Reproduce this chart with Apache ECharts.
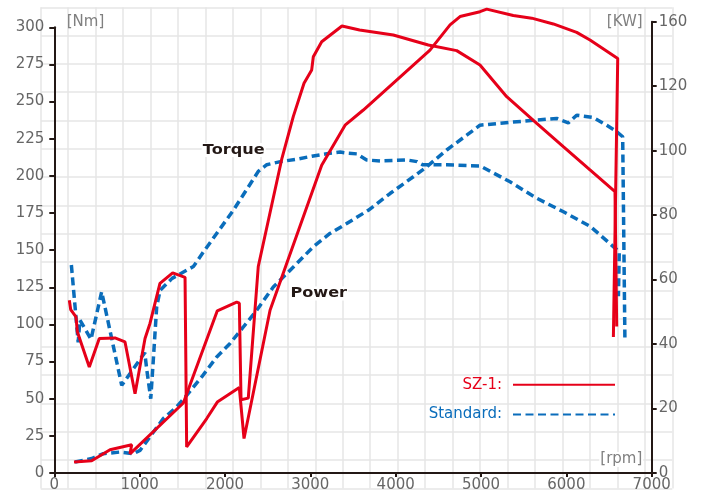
<!DOCTYPE html>
<html>
<head>
<meta charset="utf-8">
<script src="https://cdn.jsdelivr.net/npm/echarts@6/dist/echarts.min.js"></script>
<style>
  html, body { margin: 0; padding: 0; background: #fff; }
  #chart { width: 708px; height: 498px; }
</style>
</head>
<body>
<div id="chart"></div>
<script>
// rpm / torque [Nm] / power [KW]
var xTicks = [0, 1000, 2000, 3000, 4000, 5000, 6000, 7000];
var kwTopLabel = '160';

var sz1Torque = [
    [231, 7.4], [438, 8.3], [653, 15.7], [907, 19.0], [887, 12.9], [1512, 47.1],
    [1910, 109.2], [2137, 115.0], [2168, 114.3], [2188, 49.3], [2273, 50.4],
    [2390, 139.0], [2668, 212], [2800, 239.9], [2926, 262.3], [3016, 271.3],
    [3035, 280.2], [3133, 290.3], [3371, 300.9], [3577, 298.2], [3972, 294.8],
    [4382, 288.1], [4715, 284.3], [4988, 274.6], [5301, 253.3], [5653, 235.4],
    [5964, 219.7], [6277, 204.0], [6570, 189.4], [6590, 98.6]
];
var sz1Power = [
    [176, 53.6], [192, 50.7], [254, 48.4], [270, 43.8], [410, 32.9], [527, 41.7],
    [711, 41.9], [828, 40.7], [946, 24.6], [1063, 41.7], [1121, 46.4], [1238, 58.8],
    [1387, 62.1], [1532, 60.7], [1551, 8.1], [1786, 16.9], [1910, 22.0], [2168, 26.5],
    [2223, 10.7], [2528, 50.5], [3133, 95.5], [3407, 107.9], [3621, 112.6],
    [4402, 131.2], [4637, 139.0], [4754, 141.6], [4988, 143.1], [5067, 143.9],
    [5378, 141.9], [5594, 141.1], [5847, 139.3], [6121, 136.7], [6277, 134.3],
    [6602, 128.6], [6551, 42.2]
];
var stdTorque = [
    [200, 140], [280, 88], [300, 103], [430, 90], [555, 122], [790, 59], [810, 58],
    [1060, 81], [1085, 69], [1130, 50], [1160, 76], [1200, 112], [1240, 123],
    [1380, 131], [1630, 139], [1750, 149], [2100, 177], [2390, 203], [2490, 207.5],
    [2650, 209.6], [2840, 211.2], [3035, 213.4], [3230, 215.2], [3350, 216],
    [3450, 215.2], [3545, 214.8], [3660, 210.7], [3820, 210], [4130, 210.7],
    [4250, 209.6], [4320, 207.4], [4600, 207.4], [4990, 206.7], [5340, 196],
    [5650, 185], [5960, 176], [6280, 166], [6550, 152.4], [6620, 149], [6610, 119]
];
var stdPower = [
    [243, 3.4], [438, 4.5], [574, 6.0], [770, 6.5], [926, 6.0], [1004, 7.0],
    [1121, 11.2], [1277, 16.9], [1434, 20.5], [1551, 24.1], [1727, 29.8],
    [1903, 36.0], [2059, 40.2], [2215, 45.3], [2372, 50.5], [2566, 57.7],
    [2801, 63.9], [3035, 70.2], [3230, 74.3], [3426, 77.4], [3679, 81.5],
    [3934, 86.7], [4207, 91.9], [4364, 95.0], [4598, 100.2], [4832, 104.8],
    [4988, 107.9], [5223, 108.5], [5653, 109.5], [5887, 110.0], [6023, 108.6],
    [6121, 111.0], [6316, 110.3], [6473, 107.9], [6590, 105.9], [6660, 104.3],
    [6686, 41.7]
];

var RED = '#e60019';
var BLUE = '#0a6dbb';
var AXIS = '#231815';
var FONT = 'DejaVu Sans';

var myChart = echarts.init(document.getElementById('chart'));

var labelStyle = { color: '#666', fontFamily: FONT, fontSize: 15 };
var hidden = { show: false };
var plain = function (v) { return String(v); };

var legendBox = function (name, color, top) {
    return {
        data: [{ name: name, textStyle: { color: color } }],
        right: 92, top: top, padding: 0, align: 'right',
        itemWidth: 102, itemHeight: 14,
        selectedMode: false, formatter: '{name}:',
        itemStyle: { opacity: 0 },
        textStyle: { fontFamily: FONT, fontSize: 15, padding: [0, 6, 0, 0] }
    };
};

var textItem = function (text, x, y, align, opts) {
    return Object.assign({
        type: 'text', x: x, y: y, z: 50, silent: true,
        style: {
            text: text, fill: '#808080', fontFamily: FONT, fontSize: 15,
            textAlign: align, textVerticalAlign: 'middle'
        }
    }, opts || {});
};

var option = {
    animation: false,
    backgroundColor: '#fff',
    grid: [
        // background paper grid
        { left: 40.7, top: 7.3, width: 631.6, height: 481.1 },
        // torque axis
        { left: 54.3, right: 56.3, top: 27.3, bottom: 25 },
        // power axis
        { left: 54.3, right: 56.3, top: 21.7, bottom: 25 }
    ],
    xAxis: [
        {
            gridIndex: 0, type: 'value', min: 0, max: 23, interval: 1,
            axisLine: hidden, axisTick: hidden, axisLabel: hidden,
            splitLine: { show: true, lineStyle: { color: '#e6e6e6', width: 1.5 } }
        },
        {
            gridIndex: 1, type: 'value', min: 0, max: 7000, interval: 1000,
            axisLine: { onZero: false, lineStyle: { color: AXIS, width: 2 } },
            axisTick: { length: 4, lineStyle: { color: AXIS, width: 2 } },
            axisLabel: Object.assign({ margin: 5, customValues: xTicks, formatter: plain }, labelStyle),
            splitLine: hidden
        },
        {
            gridIndex: 2, type: 'value', min: 0, max: 7000, show: false,
            axisLine: { onZero: false }
        }
    ],
    yAxis: [
        {
            gridIndex: 0, type: 'value', min: 0, max: 17, interval: 1,
            axisLine: hidden, axisTick: hidden, axisLabel: hidden,
            splitLine: { show: true, lineStyle: { color: '#e6e6e6', width: 1.5 } }
        },
        {
            gridIndex: 1, type: 'value', min: 0, max: 300, interval: 25, position: 'left',
            axisLine: { show: true, onZero: false, lineStyle: { color: AXIS, width: 2 } },
            axisTick: { show: true, length: 5, lineStyle: { color: AXIS, width: 2 } },
            axisLabel: Object.assign({ margin: 10, formatter: plain }, labelStyle),
            splitLine: hidden
        },
        {
            gridIndex: 2, type: 'value', min: 0, max: 140, interval: 20, position: 'right',
            axisLine: { show: true, onZero: false, lineStyle: { color: AXIS, width: 2 } },
            axisTick: { show: true, length: 5, lineStyle: { color: AXIS, width: 2 } },
            axisLabel: Object.assign({
                margin: 7,
                formatter: function (v) { return v === 140 ? kwTopLabel : String(v); }
            }, labelStyle),
            splitLine: hidden
        }
    ],
    legend: [
        legendBox('SZ-1', RED, 377.3),
        legendBox('Standard', BLUE, 407)
    ],
    graphic: [
        textItem('[Nm]', 66.7, 22, 'left'),
        textItem('[KW]', 642.7, 22, 'right'),
        textItem('[rpm]', 643.3, 459.5, 'right'),
        textItem('Torque', 201.7, 150, 'left', { scaleX: 1.15 }),
        textItem('Power', 289.3, 293.5, 'left', { scaleX: 1.15 })
    ],
    series: [
        {
            name: 'Standard', type: 'line', xAxisIndex: 1, yAxisIndex: 1,
            data: stdTorque, symbol: 'none', clip: false,
            lineStyle: { color: BLUE, width: 3.5, type: [8, 4.5] }
        },
        {
            name: 'Standard', type: 'line', xAxisIndex: 2, yAxisIndex: 2,
            data: stdPower, symbol: 'none', clip: false,
            lineStyle: { color: BLUE, width: 3.5, type: [8, 4.5] }
        },
        {
            name: 'SZ-1', type: 'line', xAxisIndex: 1, yAxisIndex: 1,
            data: sz1Torque, symbol: 'none', clip: false,
            lineStyle: { color: RED, width: 3 }
        },
        {
            name: 'SZ-1', type: 'line', xAxisIndex: 2, yAxisIndex: 2,
            data: sz1Power, symbol: 'none', clip: false,
            lineStyle: { color: RED, width: 3 }
        }
    ]
};

// bold labels for the two curve groups; text sits on white so grid lines don't cut it
[2, 3, 4].forEach(function (i) {
    option.graphic[i].style.backgroundColor = '#fff';
    option.graphic[i].style.padding = [0, 1];
});
[3, 4].forEach(function (i) {
    option.graphic[i].style.fill = AXIS;
    option.graphic[i].style.fontSize = 14;
    option.graphic[i].style.fontWeight = 'bold';
});

myChart.setOption(option);
</script>
</body>
</html>
